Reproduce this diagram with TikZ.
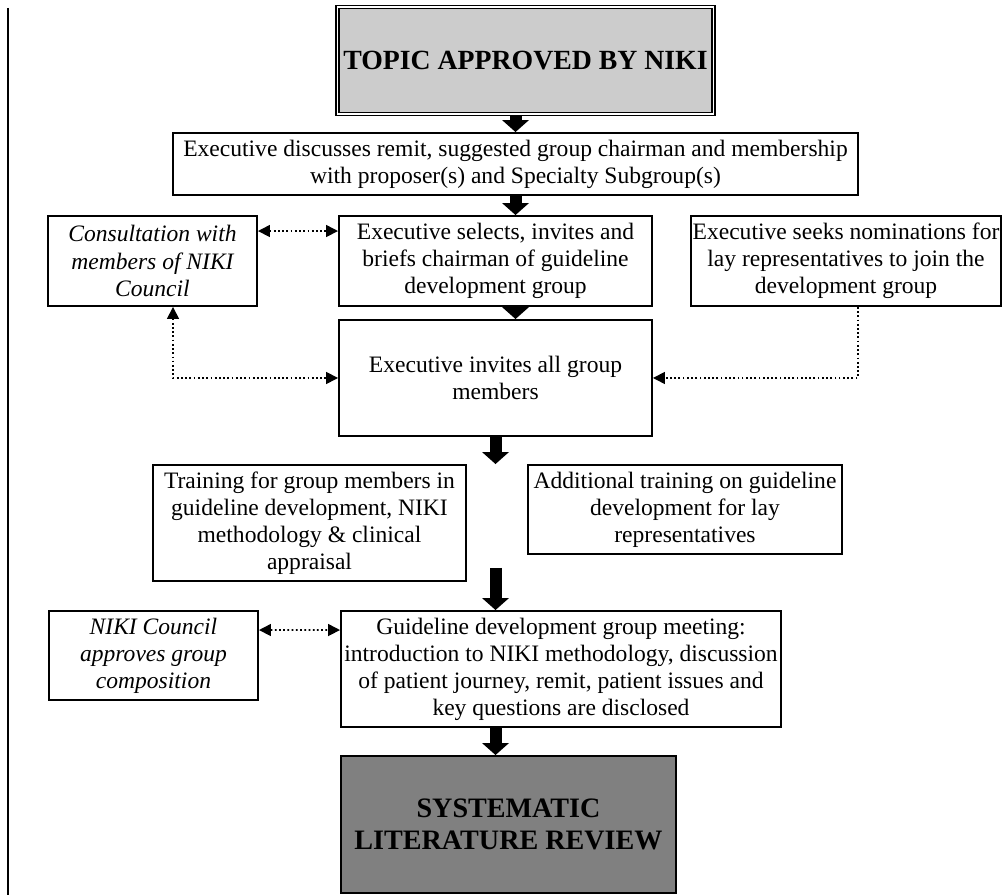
\documentclass[tikz,border=0pt]{standalone}
\usepackage{fontspec}
\setmainfont{Liberation Serif}
\usetikzlibrary{arrows.meta,positioning,calc}
\definecolor{topgray}{HTML}{CCCCCC}
\definecolor{endgray}{HTML}{808080}

\begin{document}
\begin{tikzpicture}[
    block/.style={draw, rectangle, line width=1.1pt, align=center, inner sep=1pt, minimum height=1.8cm, font=\fontsize{13.4}{15.4}\selectfont},
    note/.style={block, font=\fontsize{13.4}{15.4}\selectfont\itshape},
    title/.style={draw, rectangle, line width=0.9pt, double=white, double distance=0.9pt, align=center, font=\fontsize{15.8}{18}\selectfont\bfseries},
    arr/.style={line width=0.24cm, -{Triangle[length=0.24cm,width=0.54cm,line width=0pt]}},
    link/.style={line width=0.9pt, dash pattern=on 1pt off 1.4pt},
    >={Triangle[length=0.24cm,width=0.24cm]}
  ]
  \useasboundingbox (0,0) rectangle (20.04,17.9);

  \node[title, fill=topgray, minimum width=7.5cm, minimum height=2.14cm] (topic) at (10.51,16.69) {TOPIC APPROVED BY NIKI};
  \node[block, minimum width=13.7cm, minimum height=1.24cm] (remit) at (10.31,14.62) {Executive discusses remit, suggested group chairman and membership\\with proposer(s) and Specialty Subgroup(s)};
  \node[note, minimum width=4.18cm] (consult) at (3.05,12.68) {Consultation with\\members of NIKI\\Council};
  \node[block, minimum width=6.26cm] (selects) at (9.91,12.68) {Executive selects, invites and\\briefs chairman of guideline\\development group};
  \node[block, minimum width=6.16cm] (seeks) at (16.92,12.68) {Executive seeks nominations for\\lay representatives to join the\\development group};
  \node[block, minimum width=6.26cm, minimum height=2.32cm] (invites) at (9.91,10.34) {Executive invites all group\\members};
  \node[block, minimum width=6.26cm, minimum height=2.32cm] (training) at (6.19,7.44) {Training for group members in\\guideline development, NIKI\\methodology \& clinical\\appraisal};
  \node[block, minimum width=6.28cm, minimum height=1.78cm] (addtrain) at (13.70,7.71) {Additional training on guideline\\development for lay\\representatives};
  \node[note, minimum width=4.18cm, minimum height=1.78cm] (council) at (3.07,4.79) {NIKI Council\\approves group\\composition};
  \node[block, minimum width=8.8cm, minimum height=2.32cm] (meeting) at (11.22,4.52) {Guideline development group meeting:\\introduction to NIKI methodology, discussion\\of patient journey, remit, patient issues and\\key questions are disclosed};
  \node[block, fill=endgray, font=\fontsize{16}{17.8}\selectfont\bfseries, minimum width=6.7cm, minimum height=2.74cm] (review) at (10.17,1.41) {SYSTEMATIC\\LITERATURE REVIEW};

  % main flow
  \draw[arr] (topic.south -| remit) -- (remit.north);
  \draw[arr] (remit.south) -- (remit.south |- selects.north);
  \draw[arr] (selects.south -| remit) -- (invites.north -| remit);
  \draw[arr] (invites.south) -- (invites.south |- training.north);
  \coordinate (gap) at (9.91,6.54);
  \draw[arr] (gap) -- (gap |- meeting.north);
  \draw[arr] (meeting.south -| gap) -- (review.north -| gap);

  % dotted links
  \draw[link,<->] ($(consult.north east)+(0,-0.32)$) -- ($(selects.north west)+(0,-0.32)$);
  \draw[link,<->] ($(consult.south)+(0.41,0)$) |- (invites.west);
  \draw[link,->] ($(seeks.south)+(0.24,0)$) |- (invites.east);
  \draw[link,<->] ($(council.north east)+(0,-0.4)$) -- ($(meeting.north west)+(0,-0.4)$);

  \draw[line width=1.2pt] (0.16,17.74) -- (0.16,0);
\end{tikzpicture}
\end{document}
